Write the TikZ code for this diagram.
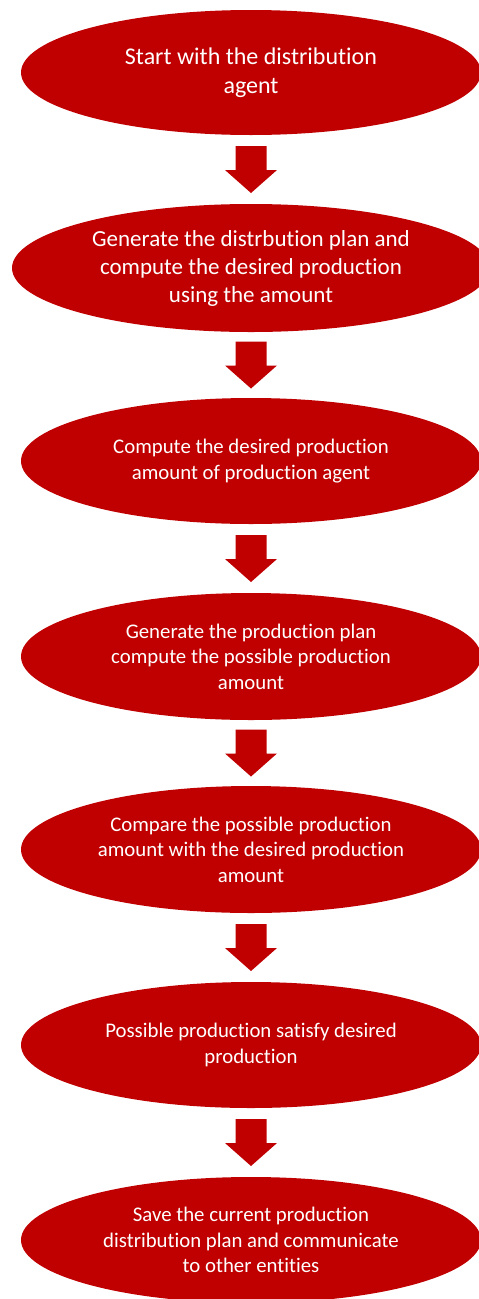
\documentclass[tikz,border=0pt]{standalone}
\usepackage{fontspec}
\setmainfont{Carlito}[Ligatures=CommonOff]
\usetikzlibrary{shapes.geometric,calc}
\definecolor{flowred}{RGB}{192,0,0}
\tikzset{
  stepell/.style={ellipse, fill=flowred, text=white, inner sep=0pt, outer sep=0pt,
    minimum width=460pt, minimum height=126pt, align=center},
  bigtxt/.style={font=\fontsize{24}{29.3}\selectfont},
  midtxt/.style={font=\fontsize{23}{28}\selectfont},
  smalltxt/.style={font=\fontsize{20.8}{25.4}\selectfont},
}
\newcommand\blockarrow[2]{%
  \path let \p1=($(#1.south)!0.5!(#2.north)$) in
    [fill=flowred] (\x1-15.5pt,\y1+23.5pt) -- (\x1+15.5pt,\y1+23.5pt)
    -- (\x1+15.5pt,\y1-0.5pt) -- (\x1+26pt,\y1-0.5pt) -- (\x1,\y1-23.5pt)
    -- (\x1-26pt,\y1-0.5pt) -- (\x1-15.5pt,\y1-0.5pt) -- cycle;}
\begin{document}
\begin{tikzpicture}[x=1pt,y=-1pt]
\useasboundingbox (0,0) rectangle (479,1299);
\clip (0,0) rectangle (479,1299);
\node[stepell, bigtxt, minimum height=125pt] (e1) at (251,72.5) {Start with the distribution\\agent};
\node[stepell, midtxt, minimum width=478pt, minimum height=128pt] (e2) at (251,268) {Generate the distrbution plan and\\compute the desired production\\using the amount};
\node[stepell, smalltxt] (e3) at (251,461) {Compute the desired production\\amount of production agent};
\node[stepell, smalltxt, minimum height=127pt] (e4) at (251,656.5) {Generate the production plan\\compute the possible production\\amount};
\node[stepell, smalltxt, minimum height=127pt] (e5) at (251,849.5) {Compare the possible production\\amount with the desired production\\amount};
\node[stepell, smalltxt] (e6) at (251,1045) {Possible production satisfy desired\\production};
\node[stepell, smalltxt] (e7) at (251,1240) {Save the current production\\distribution plan and communicate\\to other entities};
\blockarrow{e1}{e2}
\blockarrow{e2}{e3}
\blockarrow{e3}{e4}
\blockarrow{e4}{e5}
\blockarrow{e5}{e6}
\blockarrow{e6}{e7}
\end{tikzpicture}
\end{document}
